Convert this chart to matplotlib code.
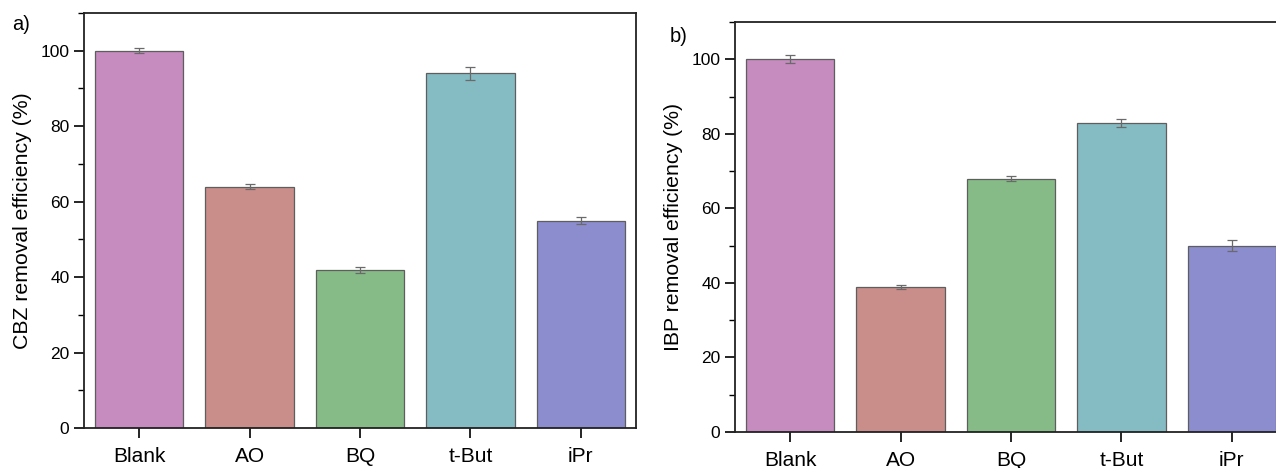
import matplotlib.pyplot as plt
from matplotlib.ticker import MultipleLocator

plt.rcParams['font.family'] = ['Liberation Sans', 'DejaVu Sans']

categories = ['Blank', 'AO', 'BQ', 't-But', 'iPr']
cbz_values = [100, 64, 42, 94, 55]
cbz_errors = [0.6, 0.6, 0.8, 1.7, 0.8]
ibp_values = [100, 39, 68, 83, 50]
ibp_errors = [1.1, 0.5, 0.6, 1.1, 1.4]

bar_colors = ['#c68bbf', '#c98d8a', '#86bb88', '#85bbc3', '#8c8dcf']

fig = plt.figure(figsize=(12.76, 4.68), dpi=100)
ax_a = fig.add_axes([84 / 1276, 1 - 428 / 468, 552 / 1276, 415 / 468])
ax_b = fig.add_axes([735 / 1276, 1 - 432 / 468, 552 / 1276, 410 / 468])


def draw_panel(ax, values, errors, ylabel):
    x = range(len(categories))
    ax.bar(x, values, width=0.8, color=bar_colors, edgecolor='#5e5e5e', linewidth=0.9)
    ax.errorbar(x, values, yerr=errors, fmt='none', ecolor='#6a6a6a',
                elinewidth=0.9, capsize=3.5, capthick=0.9)
    ax.set_xlim(-0.5, 4.5)
    ax.set_ylim(0, 110)
    ax.set_xticks(list(x))
    ax.set_xticklabels(categories, fontsize=15)
    ax.yaxis.set_major_locator(MultipleLocator(20))
    ax.yaxis.set_minor_locator(MultipleLocator(10))
    ax.tick_params(axis='both', which='major', direction='out', length=7, width=1.2, labelsize=12.5)
    ax.tick_params(axis='x', labelsize=15, pad=7)
    ax.tick_params(axis='y', which='minor', direction='out', length=4, width=1.0)
    for s in ax.spines.values():
        s.set_linewidth(1.3)
        s.set_color('#222222')
    ax.set_ylabel(ylabel, fontsize=15.3, labelpad=6)


draw_panel(ax_a, cbz_values, cbz_errors, 'CBZ removal efficiency (%)')
draw_panel(ax_b, ibp_values, ibp_errors, 'IBP removal efficiency (%)')

fig.text(12 / 1276, 1 - 25 / 468, 'a)', fontsize=14.5, va='center')
fig.text(670 / 1276, 1 - 37 / 468, 'b)', fontsize=14.5, va='center')

fig.savefig('out.png', dpi=100)
